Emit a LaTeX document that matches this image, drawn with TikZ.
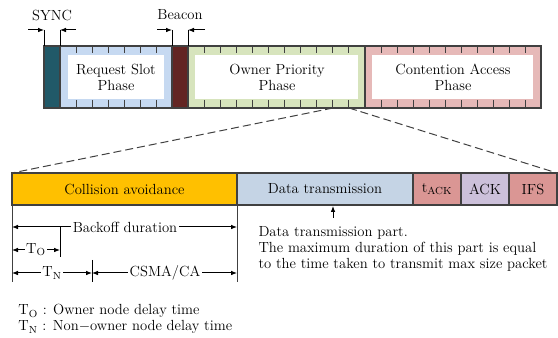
\documentclass[tikz,border=0pt]{standalone}
\usetikzlibrary{arrows.meta}

\definecolor{syncteal}{RGB}{33,89,104}
\definecolor{reqblue}{RGB}{198,217,241}
\definecolor{beaconred}{RGB}{99,37,35}
\definecolor{ownergreen}{RGB}{215,228,189}
\definecolor{contpink}{RGB}{230,185,184}
\definecolor{collyellow}{RGB}{255,192,0}
\definecolor{datablue}{RGB}{197,212,229}
\definecolor{ackred}{RGB}{218,150,148}
\definecolor{ackviolet}{RGB}{204,192,218}
\definecolor{edgegray}{RGB}{64,64,64}

\tikzset{every picture/.style={line width=0.75pt}}
\tikzset{
  slotseg/.style={draw=edgegray, line width=0.9pt},
  dimline/.style={{Latex[length=4.5pt,width=3.5pt]}-{Latex[length=4.5pt,width=3.5pt]}},
  oneway/.style={-{Latex[length=4.5pt,width=3.5pt]}},
  dimlabel/.style={fill=white, inner sep=1pt}
}

\begin{document}
\begin{tikzpicture}[x=0.75pt,y=0.75pt,yscale=-1,xscale=1,font=\fontsize{11}{12}\selectfont]
  \useasboundingbox (0,0) rectangle (558,338);

  %Shape: Superframe segments
  \draw [slotseg, fill=syncteal] (44,46) rectangle (60,108);
  \draw [slotseg, fill=reqblue] (60,46) rectangle (172,108);
  \draw [slotseg, fill=beaconred] (172,46) rectangle (188,108);
  \draw [slotseg, fill=ownergreen] (188,46) rectangle (365,108);
  \draw [slotseg, fill=contpink] (365,46) rectangle (541,108);

  %Shape: inner white boxes
  \fill [white] (68,55) rectangle (164,99);
  \fill [white] (195,55) rectangle (358,99);
  \fill [white] (372,55) rectangle (533,99);

  %Straight Lines: slot ticks
  \foreach \x in {76,92,...,156,204,220,...,348,381,397,...,525}
    \draw [edgegray] (\x,46) -- (\x,53) (\x,100) -- (\x,108);

  % Text Node
  \node [align=center] (reqslot) at (116,77) {Request Slot\\Phase};
  % Text Node
  \node [align=center] (ownerprio) at (277,77) {Owner Priority\\Phase};
  % Text Node
  \node [align=center] (contacc) at (453,77) {Contention Access\\Phase};

  % Text Node
  \node (synclbl) at (52,15) {SYNC};
  % Text Node
  \node (beaconlbl) at (180,15) {Beacon};

  %Straight Lines: SYNC and Beacon markers
  \coordinate (syncL) at (44,30);
  \coordinate (syncR) at (60,30);
  \coordinate (beaconL) at (172,30);
  \coordinate (beaconR) at (188,30);
  \draw (syncL) -- (44,46) (syncR) -- (60,46) (beaconL) -- (172,46) (beaconR) -- (188,46);
  \draw [oneway] (28,30) -- (syncL);
  \draw [oneway] (76,30) -- (syncR);
  \draw [oneway] (157,30) -- (beaconL);
  \draw [oneway] (205,30) -- (beaconR);

  %Straight Lines: zoom lines
  \coordinate (zoomL) at (333,108);
  \coordinate (zoomR) at (349,108);
  \coordinate (barNW) at (12,173);
  \coordinate (barNE) at (557,173);
  \draw [dashed, edgegray, dash pattern=on 6pt off 3pt] (zoomL) -- (barNW);
  \draw [dashed, edgegray, dash pattern=on 6pt off 3pt] (zoomR) -- (barNE);

  %Shape: slot detail bar
  \draw [slotseg, fill=collyellow] (12,173) rectangle (237,205);
  \draw [slotseg, fill=datablue] (237,173) rectangle (413,205);
  \draw [slotseg, fill=ackred] (413,173) rectangle (461,205);
  \draw [slotseg, fill=ackviolet] (461,173) rectangle (509,205);
  \draw [slotseg, fill=ackred] (509,173) rectangle (557,205);

  % Text Node
  \node (collav) at (124.5,189) {Collision avoidance};
  % Text Node
  \node (datatx) at (325,189) {Data transmission};
  % Text Node
  \node (tack) at (437,189) {t\textsubscript{ACK}};
  % Text Node
  \node (ack) at (485,189) {ACK};
  % Text Node
  \node (ifs) at (533,189) {IFS};

  %Straight Lines: duration bounds
  \draw [edgegray] (12,205) -- (12,282);
  \draw [edgegray] (237,205) -- (237,282);
  \draw (60,227) -- (60,257);
  \draw (92,260) -- (92,282);

  %Straight Lines: durations
  \draw [dimline] (12,227) -- (237,227);
  \node [dimlabel] (backoff) at (125,227) {Backoff duration};
  \draw [dimline] (12,250) -- (60,250);
  \node [dimlabel] (tolbl) at (36,250) {T\textsubscript{O}};
  \draw [dimline] (12,273) -- (92,273);
  \node [dimlabel] (tnlbl) at (52,273) {T\textsubscript{N}};
  \draw [dimline] (92,273) -- (237,273);
  \node [dimlabel] (csma) at (165,273) {CSMA/CA};

  % Text Node
  \node [anchor=north west, align=left, inner sep=0pt] (datanote) at (258,226)
    {Data transmission part.\\The maximum duration of this part is equal\\to the time taken to transmit max size packet};
  \draw [oneway] (333,218) -- (333,206);

  % Text Node
  \node [anchor=north west, align=left, inner sep=0pt] (legend) at (18,304)
    {T\textsubscript{O} : Owner node delay time\\T\textsubscript{N} : Non$-$owner node delay time};
\end{tikzpicture}
\end{document}
